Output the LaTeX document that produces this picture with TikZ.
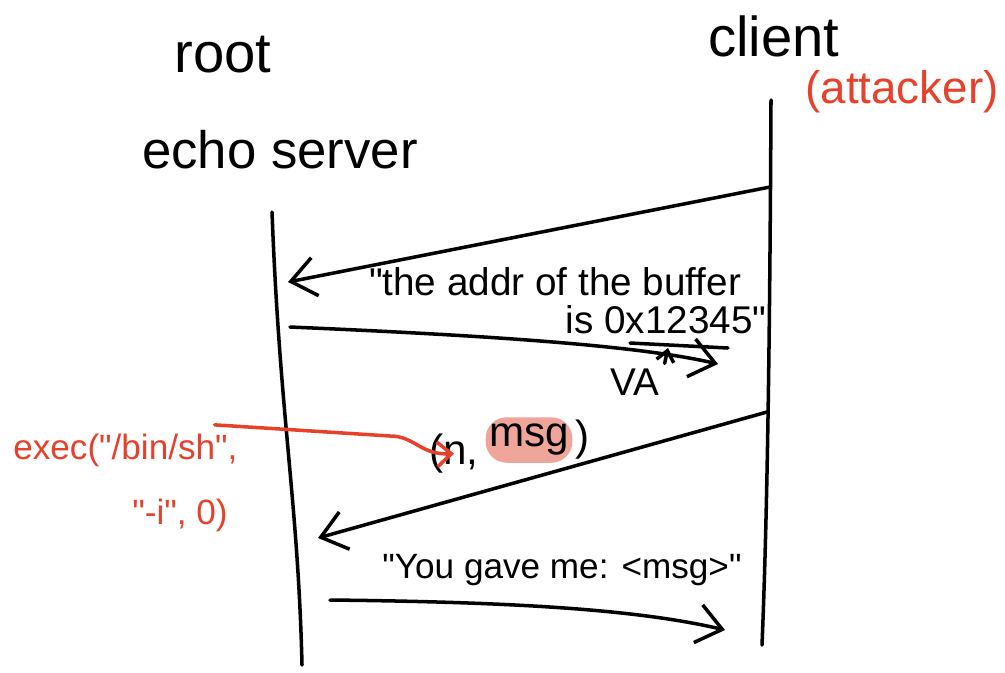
\documentclass[tikz,border=0pt]{standalone}
\usepackage{fontspec}
\setmainfont{Liberation Sans}
\usetikzlibrary{arrows.meta, positioning}
\definecolor{attackColor}{HTML}{E8412B}
\definecolor{markColor}{HTML}{EFA59A}
\newcommand{\qq}{\textquotedbl}

\begin{document}
\begin{tikzpicture}[
    line width=1pt, line cap=round,
    msgarrow/.style={-{Straight Barb[length=7pt,width=11pt]}},
    msgtext/.style={inner sep=1pt, font=\fontsize{11}{13}\selectfont},
    heading/.style={inner sep=1pt, font=\fontsize{16}{18}\selectfont}
  ]
    \useasboundingbox (0,0) rectangle (10.05,-6.72);
    % lifelines
    \coordinate (rootTop) at (2.72,-2.12);
    \coordinate (rootBot) at (3.02,-6.65);
    \coordinate (clientTop) at (7.71,-1.00);
    \coordinate (clientBot) at (7.62,-6.45);
    \draw (rootTop) .. controls (2.80,-4.20) and (2.98,-5.00) .. (rootBot);
    \draw (clientTop) .. controls (7.70,-3.00) and (7.68,-5.00) .. (clientBot);
    % parties
    \node[heading] (rootName) at (2.23,-0.55) {root};
    \node[heading, font=\fontsize{15}{17}\selectfont] (serverName) at (2.80,-1.50) {echo server};
    \node[heading] (clientName) at (7.74,-0.36) {client};
    \node[heading, attackColor, font=\fontsize{13}{15}\selectfont] (attacker) at (9.02,-0.92) {(attacker)};
    % client -> root
    \coordinate (m1s) at (7.70,-1.87);
    \coordinate (m1e) at (2.88,-2.82);
    \draw[msgarrow] (m1s) -- (m1e);
    % root -> client: the address
    \node[msgtext, inner sep=0pt] (addrA) at (5.55,-2.82) {\qq the addr of the buffer};
    \node[msgtext, inner sep=0pt] (addrB) at (6.66,-3.20) {is 0x12345\qq};
    \coordinate (m2s) at (2.90,-3.27);
    \coordinate (m2e) at (7.18,-3.64);
    \draw[msgarrow] (m2s) .. controls (5.00,-3.36) and (6.40,-3.46) .. (m2e);
    \draw (6.30,-3.43) -- (7.28,-3.48);
    \node[msgtext] (va) at (6.35,-3.82) {VA};
    \draw[-{Straight Barb[length=3pt,width=5pt]}] (va.north east) -- (6.68,-3.48);
    % client -> root: the payload
    \coordinate (m3s) at (7.67,-4.12);
    \coordinate (m3e) at (3.18,-5.38);
    \draw[msgarrow] (m3s) -- (m3e);
    \node[msgtext, font=\fontsize{12}{14}\selectfont, fill=markColor, rounded corners=6pt,
        inner xsep=1pt, inner ysep=2pt] (msgArg) at (5.29,-4.40) {msg};
    \node[msgtext, font=\fontsize{12}{14}\selectfont, anchor=south east]
        (nArg) at ([yshift=-4pt]msgArg.south west) {(n,};
    \node[msgtext, font=\fontsize{12}{14}\selectfont, right=-1pt of msgArg] (closeArg) {)};
    % what n really is
    \node[msgtext, attackColor, font=\fontsize{10}{12}\selectfont, anchor=west] (execA) at (0.08,-4.50) {exec(\qq/bin/sh\qq,};
    \node[msgtext, attackColor, font=\fontsize{10}{12}\selectfont] (execB) at (1.80,-5.15) {\qq-i\qq, 0)};
    \draw[attackColor, -{Straight Barb[length=4pt,width=7pt]}]
        ([xshift=-8pt, yshift=1pt]execA.north east) -- (3.90,-4.36)
        .. controls (4.15,-4.36) and (4.20,-4.55) .. (nArg.center);
    % root -> client: the echo
    \node[msgtext, font=\fontsize{10}{12}\selectfont] (echo) at (5.62,-5.70) {\qq You gave me: <msg>\qq};
    \coordinate (m4s) at (3.30,-6.00);
    \coordinate (m4e) at (7.25,-6.30);
    \draw[msgarrow] (m4s) .. controls (5.20,-6.02) and (6.40,-6.10) .. (m4e);
\end{tikzpicture}
\end{document}
